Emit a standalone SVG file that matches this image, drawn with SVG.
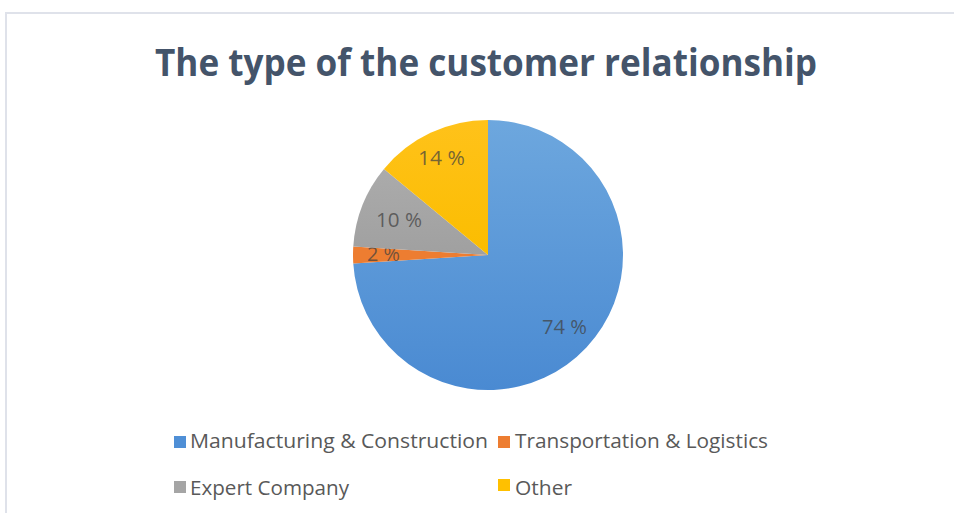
<svg xmlns="http://www.w3.org/2000/svg" width="954" height="513" viewBox="0 0 954 513">
  <defs>
    <linearGradient id="gBlue" x1="0" y1="0" x2="0" y2="1">
      <stop offset="0" stop-color="#6DA7DE"/>
      <stop offset="1" stop-color="#4A8AD2"/>
    </linearGradient>
    <linearGradient id="gGray" x1="0" y1="0" x2="0" y2="1">
      <stop offset="0" stop-color="#ABABAB"/>
      <stop offset="1" stop-color="#A0A0A0"/>
    </linearGradient>
    <linearGradient id="gYellow" x1="0" y1="0" x2="0" y2="1">
      <stop offset="0" stop-color="#FFC21A"/>
      <stop offset="1" stop-color="#FBBD00"/>
    </linearGradient>
    <style>
      .title { font-family: "Open Sans", "Liberation Sans", sans-serif; font-weight: 700; font-size: 37px; fill: #44546A; }
      .lbl { font-family: "Open Sans", "Liberation Sans", sans-serif; font-size: 20.5px; fill: #404040; fill-opacity: 0.72; }
      .leg { font-family: "Open Sans", "Liberation Sans", sans-serif; font-size: 19.5px; fill: #595959; }
    </style>
  </defs>
  <rect x="0" y="0" width="954" height="513" fill="#FFFFFF"/>
  <path d="M6,513 V13 H954" fill="none" stroke="#DFE2EA" stroke-width="2"/>

  <g id="title">
    <text class="title" x="155" y="76" textLength="662" lengthAdjust="spacingAndGlyphs">The type of the customer relationship</text>
  </g>

  <g id="pie">
    <g id="slice-manufacturing">
      <path d="M488,255 L488,120 A135,135 0 1,1 353.27,263.48 Z" fill="url(#gBlue)"/>
      <text class="lbl" x="542" y="334" textLength="45" lengthAdjust="spacingAndGlyphs">74 %</text>
    </g>
    <g id="slice-transportation">
      <path d="M488,255 L353.27,263.48 A135,135 0 0,1 353.27,246.52 Z" fill="#ED7D31"/>
      <text class="lbl" x="367" y="261" textLength="33" lengthAdjust="spacingAndGlyphs">2 %</text>
    </g>
    <g id="slice-expert">
      <path d="M488,255 L353.27,246.52 A135,135 0 0,1 383.98,168.95 Z" fill="url(#gGray)"/>
      <text class="lbl" x="376" y="227" textLength="46" lengthAdjust="spacingAndGlyphs">10 %</text>
    </g>
    <g id="slice-other">
      <path d="M488,255 L383.98,168.95 A135,135 0 0,1 488,120 Z" fill="url(#gYellow)"/>
      <text class="lbl" x="418" y="165" textLength="47" lengthAdjust="spacingAndGlyphs">14 %</text>
    </g>
  </g>

  <g id="legend">
    <g id="legend-manufacturing">
      <rect x="174" y="436" width="12" height="12" fill="#4F8FD6"/>
      <text class="leg" x="190" y="448" textLength="298" lengthAdjust="spacingAndGlyphs">Manufacturing &amp; Construction</text>
    </g>
    <g id="legend-transportation">
      <rect x="498" y="436" width="12" height="12" fill="#ED7D31"/>
      <text class="leg" x="515" y="448" textLength="253" lengthAdjust="spacingAndGlyphs">Transportation &amp; Logistics</text>
    </g>
    <g id="legend-expert">
      <rect x="174" y="481" width="12" height="12" fill="#A5A5A5"/>
      <text class="leg" x="190" y="495" textLength="159" lengthAdjust="spacingAndGlyphs">Expert Company</text>
    </g>
    <g id="legend-other">
      <rect x="498" y="479" width="12" height="12" fill="#FFC000"/>
      <text class="leg" x="515" y="495" textLength="57" lengthAdjust="spacingAndGlyphs">Other</text>
    </g>
  </g>
</svg>
